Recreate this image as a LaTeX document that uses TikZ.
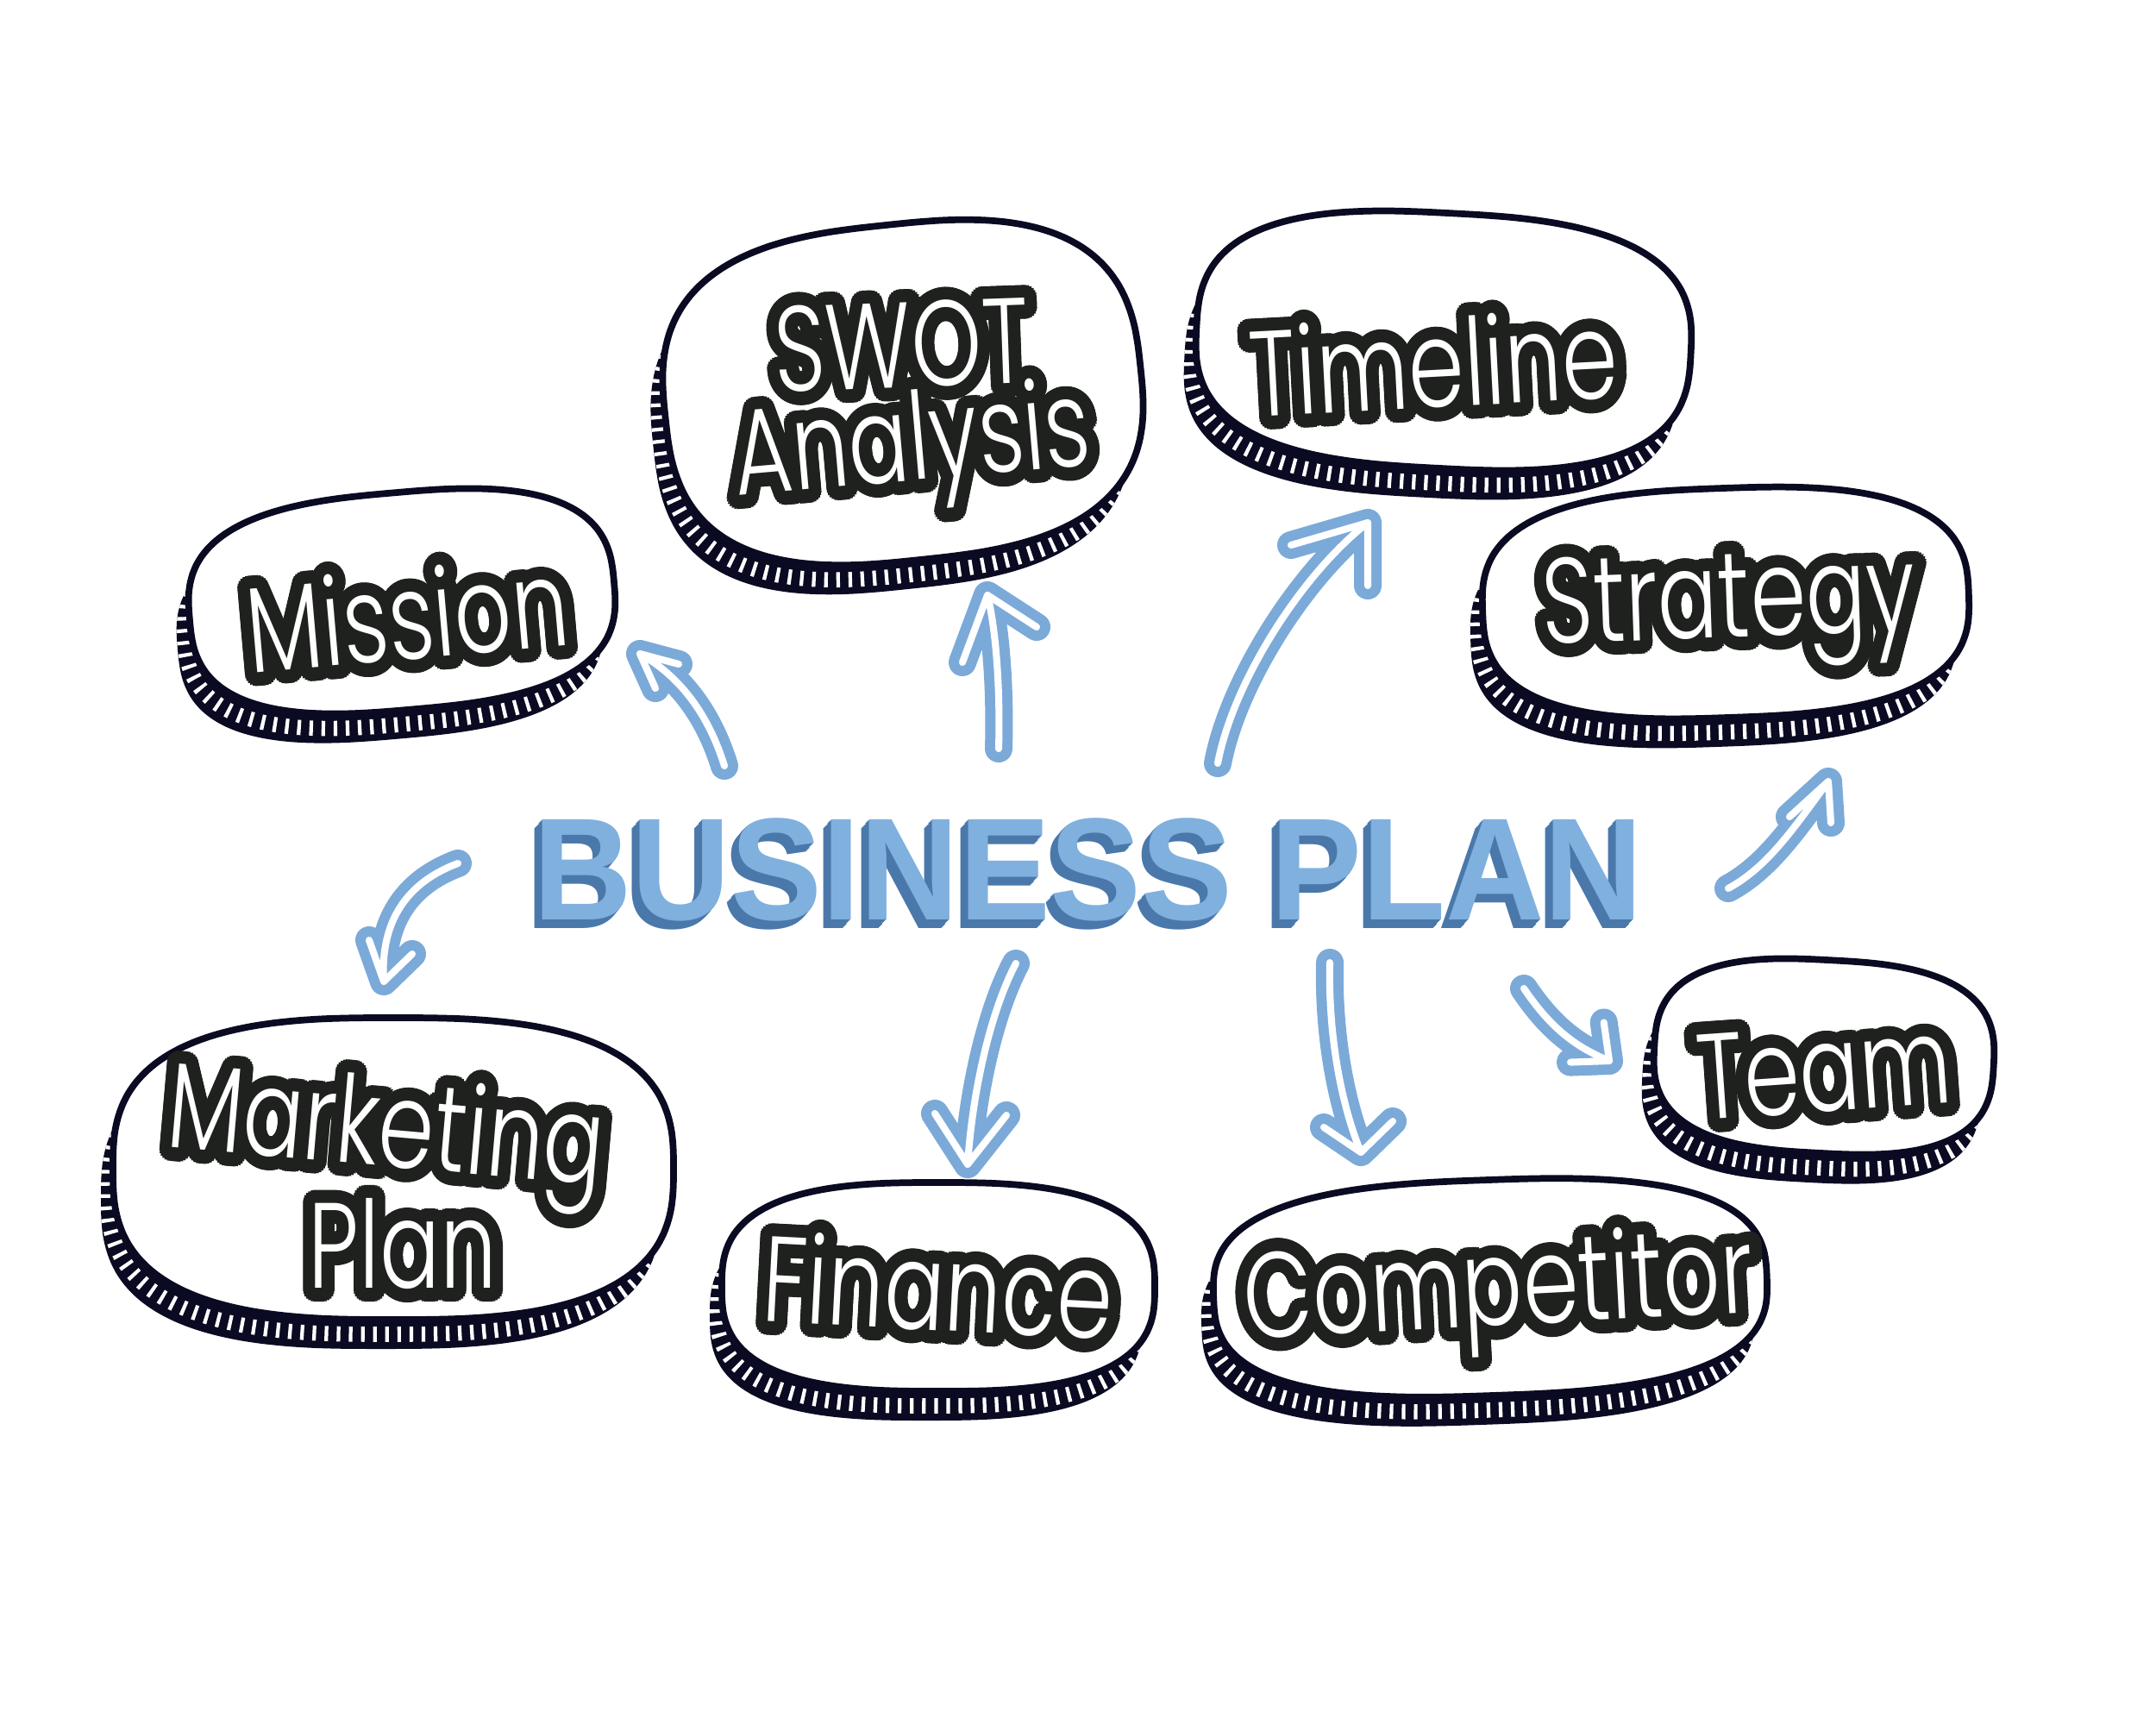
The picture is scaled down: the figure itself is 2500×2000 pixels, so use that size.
\documentclass[tikz,border=0pt]{standalone}
\usepackage{fontspec}
\setmainfont{Poppins}
\newfontfamily\lblfont{Poppins}[UprightFont=* Light]
\newfontfamily\inkfont{Poppins}[UprightFont=* Light, FakeBold=5]
\newfontfamily\titlefont{Liberation Sans}
\definecolor{ink}{HTML}{0A0A22}
\definecolor{txtink}{HTML}{1F211F}
\definecolor{arrowblue}{HTML}{7BAAD9}
\definecolor{titleblue}{HTML}{80B0DE}
\definecolor{titleshade}{HTML}{4A78AA}
\tikzset{
  bub/.style 2 args={insert path={plot[domain=2.5:357.5,samples=72,smooth cycle,variable=\t]
      ({#1*sign(cos(\t))*abs(cos(\t))^0.72},{#2*sign(sin(\t))*abs(sin(\t))^0.72})}},
  lblink/.style={text=txtink, font=\inkfont\fontsize{40}{44}\selectfont, xscale=0.74, inner sep=0pt},
  lbltext/.style={text=white, font=\lblfont\fontsize{40}{44}\selectfont, xscale=0.74, inner sep=0pt},
  arrowline/.style={draw=arrowblue, line width=3.4pt, double=white, double distance=2.3pt,
      line cap=round, line join=round},
  titleface/.style={text=titleblue, font=\titlefont\bfseries\fontsize{48}{52}\selectfont, xscale=0.94, inner sep=0pt},
  titleside/.style={text=titleshade, font=\titlefont\bfseries\fontsize{48}{52}\selectfont, xscale=0.94, inner sep=0pt},
}
% cx, cy, a, b, rotation
\newcommand\bubble[5]{%
  \begin{scope}[shift={(#1,#2)}]
    \fill[ink, shift={(-14,34)}, rotate=#5, bub={#3}{#4}];
    \begin{scope}
      \clip[shift={(-14,34)}, rotate=#5, bub={#3}{#4}];
      \draw[white, line width=5pt, dash pattern=on 1.2pt off 2.8pt, shift={(-7,17)}, rotate=#5, bub={#3}{#4}];
    \end{scope}
    \filldraw[fill=white, draw=ink, line width=2.2pt, rotate=#5, bub={#3}{#4}];
  \end{scope}}
% name, position, rotation, text
\newcommand\lbl[4]{%
  \foreach \i in {1,...,24}{
    \node[shift={(15*\i:12)}, rotate=#3, lblink] (#1ink\i) at #2 {#4};}
  \node[rotate=#3, lblink] (#1ink) at #2 {#4};
  \node[rotate=#3, lbltext] (#1) at #2 {#4};}
\begin{document}
\begin{tikzpicture}[x=0.01cm, y=-0.01cm]
\fill[white] (0,0) rectangle (2500,2000);
\useasboundingbox (0,0) rectangle (2500,2000);

% bubbles
\bubble{466}{697}{247}{126}{5}
\bubble{1047}{455}{277}{195}{6}
\bubble{1674}{395}{287}{148}{-3}
\bubble{2001}{699}{282}{133}{2}
\bubble{2115}{1225}{197}{112}{-3}
\bubble{1728}{1493}{321}{125}{2}
\bubble{1088}{1492}{251}{121}{0}
\bubble{456}{1355}{325}{175}{0}

% labels
\lbl{mission}{(472,712)}{5}{Mission}
\lbl{swot}{(1045,400)}{2}{SWOT}
\lbl{analysis}{(1058,522)}{5}{Analysis}
\lbl{timeline}{(1662,420)}{3}{Timeline}
\lbl{strategy}{(2005,708)}{2}{Strategy}
\lbl{team}{(2115,1240)}{4}{Team}
\lbl{competitor}{(1738,1502)}{3}{Competitor}
\lbl{finance}{(1088,1490)}{-3}{Finance}
\lbl{marketing}{(447,1318)}{-5}{Marketing}
\lbl{plan}{(467,1442)}{0}{Plan}

% title
\foreach \k in {9,8,...,1}{
  \node[titleside] (shade\k) at ({1262-\k},{1008+1.2*\k}) {BUSINESS PLAN};
}
\node[titleface] (title) at (1262,1008) {BUSINESS PLAN};

% arrows
\coordinate (a1s) at (840,888);  \coordinate (a1t) at (742,758);
\draw[arrowline] (a1s) .. controls (822,830) and (790,785) .. (a1t) (a1t) -- ++(45,12) (a1t) -- ++(18,40);

\coordinate (a2s) at (1158,868); \coordinate (a2t) at (1145,690);
\draw[arrowline] (a2s) .. controls (1160,800) and (1155,730) .. (a2t) (a2t) -- ++(-29,78) (a2t) -- ++(57,37);

\coordinate (a3s) at (1412,885); \coordinate (a3t) at (1586,606);
\draw[arrowline] (a3s) .. controls (1430,790) and (1510,665) .. (a3t) (a3t) -- ++(-89,26) (a3t) -- ++(0,73);

\coordinate (a4s) at (2004,1030); \coordinate (a4t) at (2120,906);
\draw[arrowline] (a4s) .. controls (2050,1005) and (2080,960) .. (a4t) (a4t) -- ++(-45,41) (a4t) -- ++(3,48);

\coordinate (a5s) at (1767,1146); \coordinate (a5t) at (1866,1230);
\draw[arrowline] (a5s) .. controls (1800,1195) and (1830,1215) .. (a5t) (a5t) -- ++(262:45) (a5t) -- ++(178:45);

\coordinate (a6s) at (1542,1116); \coordinate (a6t) at (1578,1336);
\draw[arrowline] (a6s) .. controls (1540,1200) and (1555,1280) .. (a6t) (a6t) -- ++(-43,-29) (a6t) -- ++(37,-36);

\coordinate (a7s) at (1178,1117); \coordinate (a7t) at (1122,1350);
\draw[arrowline] (a7s) .. controls (1150,1170) and (1128,1260) .. (a7t) (a7t) -- ++(-38,-59) (a7t) -- ++(45,-57);

\coordinate (a8s) at (531,1001); \coordinate (a8t) at (445,1138);
\draw[arrowline] (a8s) .. controls (480,1020) and (440,1060) .. (a8t) (a8t) -- ++(-17,-48) (a8t) -- ++(33,-32);
\end{tikzpicture}
\end{document}
